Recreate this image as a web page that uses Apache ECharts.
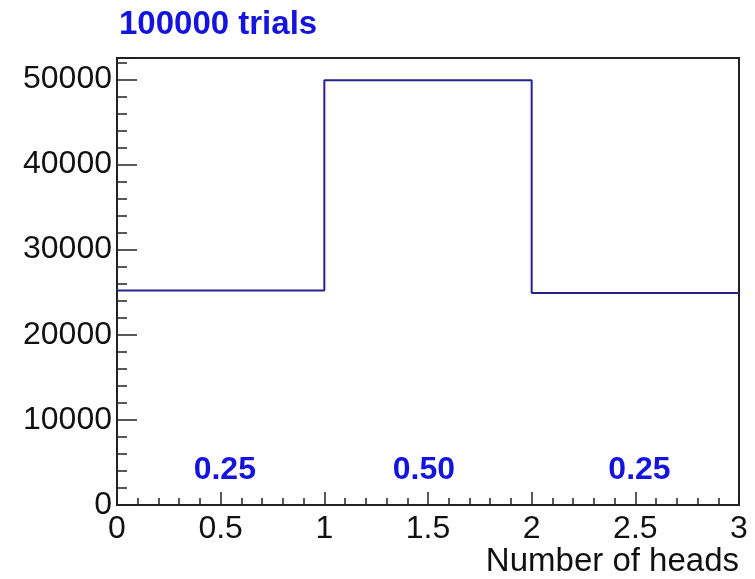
<!DOCTYPE html>
<html>
<head>
<meta charset="utf-8">
<script src="https://cdn.jsdelivr.net/npm/echarts@6/dist/echarts.min.js"></script>
<style>
  html, body { margin: 0; padding: 0; background: #fff; }
  #chart { width: 755px; height: 579px; }
</style>
</head>
<body>
<div id="chart"></div>
<script>
// histogram of number of heads in two coin tosses
const binEdges = [0, 1, 2, 3]
const counts = [25200, 49900, 24900]
const fractionLabels = ['0.25', '0.50', '0.25']
const fractionX = [0.52, 1.48, 2.52]
const fractionY = [4100, 4100, 4100]
const titleText = '100000 trials'
const xName = 'Number of heads'

const FONT = 'Liberation Sans'

// step outline: one point per bin left edge, plus the last right edge
const stepData = binEdges.map((x, i) => [x, counts[Math.min(i, counts.length - 1)]])
const labelData = fractionX.map((x, i) => [x, fractionY[i], fractionLabels[i]])

const chart = echarts.init(document.getElementById('chart'))
chart.setOption({
  animation: false,
  title: {
    text: titleText,
    left: 114, top: 3,
    textStyle: { color: '#1414dc', fontFamily: FONT, fontWeight: 'bold', fontSize: 33 }
  },
  grid: {
    left: 117, right: 16, top: 58, bottom: 74,
    show: true, borderColor: '#222', borderWidth: 2, backgroundColor: '#fff'
  },
  xAxis: {
    type: 'value',
    min: 0, max: 3, interval: 0.5,
    name: xName,
    nameLocation: 'end',
    nameGap: 0,
    nameTextStyle: {
      color: '#111', fontFamily: FONT, fontSize: 33,
      align: 'right', verticalAlign: 'top', padding: [40, 0, 0, 0]
    },
    axisLine: { show: true, onZero: false, lineStyle: { color: '#222', width: 2 } },
    axisTick: { show: true, inside: true, length: 13, lineStyle: { color: '#222', width: 1.5 } },
    minorTick: { show: true, splitNumber: 5, length: 7, lineStyle: { color: '#222', width: 1.5 } },
    splitLine: { show: false },
    axisLabel: {
      color: '#111', fontFamily: FONT, fontSize: 32, margin: 8,
      formatter: v => String(v)
    }
  },
  yAxis: {
    type: 'value',
    min: 0, max: 52500, interval: 10000,
    axisLine: { show: true, lineStyle: { color: '#222', width: 2 } },
    axisTick: { show: true, inside: true, length: 20, lineStyle: { color: '#222', width: 1.5 } },
    minorTick: { show: true, splitNumber: 5, length: 10, lineStyle: { color: '#222', width: 1.5 } },
    splitLine: { show: false },
    axisLabel: {
      color: '#111', fontFamily: FONT, fontSize: 32, margin: 5,
      showMaxLabel: false,
      formatter: v => String(v)
    }
  },
  series: [
    {
      name: 'heads',
      type: 'line',
      step: 'end',
      data: stepData,
      symbol: 'none',
      lineStyle: { color: '#24248a', width: 2 },
      z: 3
    },
    {
      name: 'fractions',
      type: 'scatter',
      data: labelData,
      symbolSize: 0,
      itemStyle: { opacity: 1 },
      label: {
        show: true,
        position: 'inside',
        formatter: p => p.value[2],
        color: '#1414dc', fontFamily: FONT, fontWeight: 'bold', fontSize: 32
      },
      z: 4
    }
  ]
})
</script>
</body>
</html>
